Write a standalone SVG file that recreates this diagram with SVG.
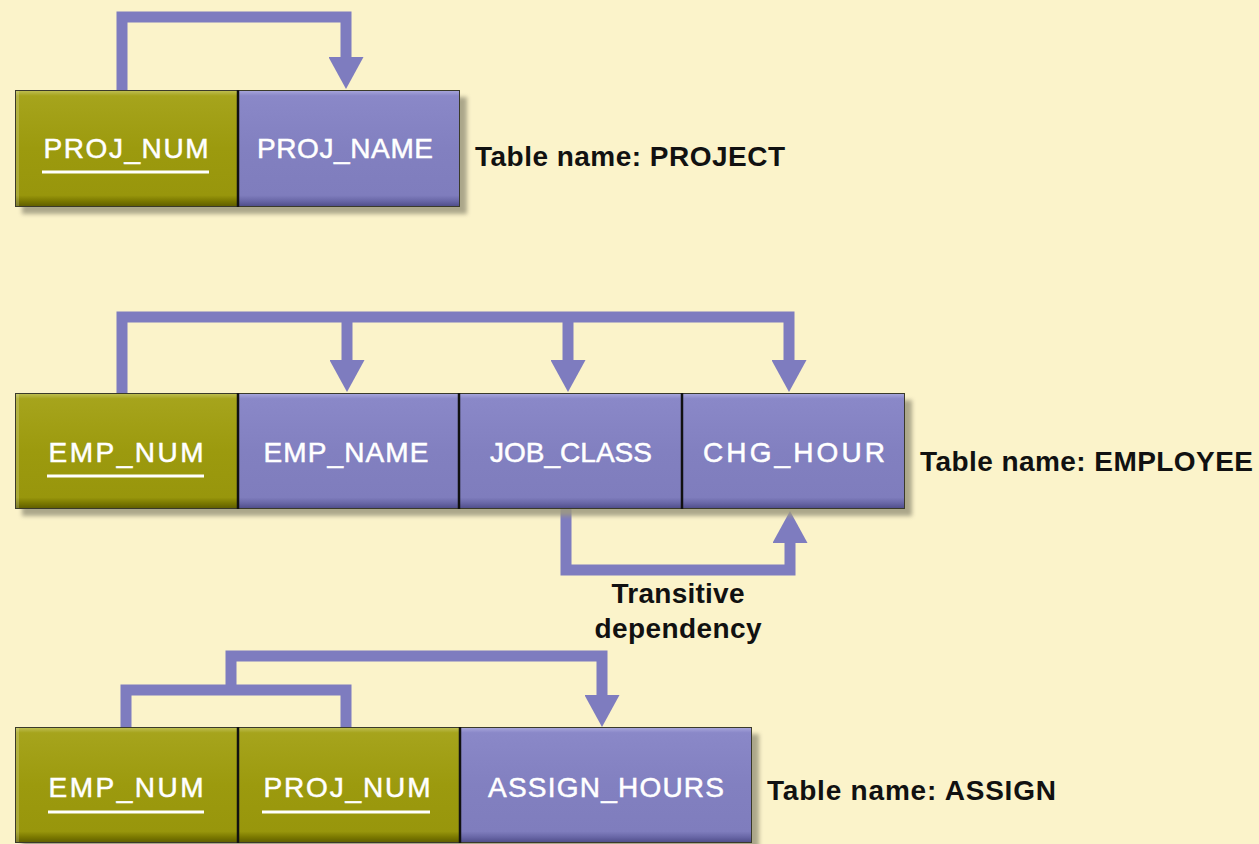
<svg xmlns="http://www.w3.org/2000/svg" width="1259" height="844" viewBox="0 0 1259 844">
  <defs>
    <style>
      .bg { fill: #FBF3CA; }
      .conn { fill: none; stroke: #7E7CBF; stroke-width: 11; stroke-linejoin: miter; stroke-linecap: butt; }
      .key { fill: url(#olive); }
      .attr { fill: url(#purple); }
      .edge { fill: none; stroke: #3A3A2A; stroke-width: 1; }
      .div { stroke: #111; stroke-width: 2.5; }
      .shadow { fill: #9E9A80; filter: url(#soft); opacity: 0.85; }
      .field { font-family: "Liberation Sans", Arial, sans-serif; font-size: 28px; fill: #FFFFFF; stroke: #FFFFFF; stroke-width: 0.5; text-anchor: middle; }
      .uline { stroke: #FFFFFF; stroke-width: 3; }
      .label { font-family: "Liberation Sans", Arial, sans-serif; font-size: 28px; font-weight: bold; fill: #111111; }
      .hl { fill: #FFFFFF; opacity: 0.18; }
    </style>
    <linearGradient id="olive" x1="0" y1="0" x2="0" y2="1">
      <stop offset="0" stop-color="#C2C25A"/>
      <stop offset="0.05" stop-color="#A6A41C"/>
      <stop offset="0.5" stop-color="#9C9A0E"/>
      <stop offset="0.9" stop-color="#98960C"/>
      <stop offset="0.95" stop-color="#7A7800"/>
      <stop offset="1" stop-color="#5C5A00"/>
    </linearGradient>
    <linearGradient id="purple" x1="0" y1="0" x2="0" y2="1">
      <stop offset="0" stop-color="#ABA9DE"/>
      <stop offset="0.05" stop-color="#8A88C8"/>
      <stop offset="0.5" stop-color="#8280C0"/>
      <stop offset="0.9" stop-color="#7F7DBD"/>
      <stop offset="0.95" stop-color="#6866A6"/>
      <stop offset="1" stop-color="#4C4A86"/>
    </linearGradient>
    <filter id="soft" x="-5%" y="-10%" width="110%" height="120%">
      <feGaussianBlur stdDeviation="2"/>
    </filter>
    <marker id="head" viewBox="0 0 32 35" refX="0" refY="17.5" markerWidth="32" markerHeight="35" markerUnits="userSpaceOnUse" orient="auto">
      <path d="M0,0 L32,17.5 L0,35 Z" fill="#7E7CBF"/>
    </marker>
  </defs>

  <rect class="bg" x="0" y="0" width="1259" height="844"/>

  <!-- dependency arrows -->
  <g id="connectors">
    <!-- PROJECT: PROJ_NUM -> PROJ_NAME -->
    <path class="conn" d="M122,90 V17 H346 V57" marker-end="url(#head)"/>
    <!-- EMPLOYEE: EMP_NUM -> EMP_NAME, JOB_CLASS, CHG_HOUR -->
    <path class="conn" d="M122,393 V317 H789 V360" marker-end="url(#head)"/>
    <path class="conn" d="M347,317 V360" marker-end="url(#head)"/>
    <path class="conn" d="M568,317 V360" marker-end="url(#head)"/>
    <!-- transitive: JOB_CLASS -> CHG_HOUR -->
    <path class="conn" d="M566,509 V570 H790 V543" marker-end="url(#head)"/>
    <!-- ASSIGN: EMP_NUM + PROJ_NUM -> ASSIGN_HOURS -->
    <path class="conn" d="M126,727 V690 H346 V727"/>
    <path class="conn" d="M231,690 V656 H602 V695" marker-end="url(#head)"/>
  </g>

  <!-- PROJECT table -->
  <g id="project">
    <rect class="shadow" x="22" y="97" width="445" height="117"/>
    <rect class="key" x="15" y="90" width="223" height="117"/>
    <rect class="attr" x="238" y="90" width="222" height="117"/>
    <rect class="hl" x="15" y="90" width="4" height="117"/>
    <rect class="edge" x="15.5" y="90.5" width="444" height="116"/>
    <line class="div" x1="238" y1="90" x2="238" y2="207"/>
    <text class="field" x="126" y="158" textLength="165">PROJ_NUM</text>
    <line class="uline" x1="42" y1="172" x2="209" y2="172"/>
    <text class="field" x="345" y="158" textLength="176">PROJ_NAME</text>
    <text class="label" x="475" y="166" textLength="310">Table name: PROJECT</text>
  </g>

  <!-- EMPLOYEE table -->
  <g id="employee">
    <rect class="shadow" x="22" y="400" width="890" height="116"/>
    <rect class="key" x="15" y="393" width="223" height="116"/>
    <rect class="attr" x="238" y="393" width="221" height="116"/>
    <rect class="attr" x="459" y="393" width="223" height="116"/>
    <rect class="attr" x="682" y="393" width="223" height="116"/>
    <rect class="hl" x="15" y="393" width="4" height="116"/>
    <rect class="edge" x="15.5" y="393.5" width="889" height="115"/>
    <line class="div" x1="238" y1="393" x2="238" y2="509"/>
    <line class="div" x1="459" y1="393" x2="459" y2="509"/>
    <line class="div" x1="682" y1="393" x2="682" y2="509"/>
    <text class="field" x="126" y="462" textLength="155">EMP_NUM</text>
    <line class="uline" x1="47" y1="476" x2="204" y2="476"/>
    <text class="field" x="346" y="462" textLength="165">EMP_NAME</text>
    <text class="field" x="571" y="462" textLength="162">JOB_CLASS</text>
    <text class="field" x="794" y="462" textLength="182">CHG_HOUR</text>
    <text class="label" x="920" y="471" textLength="333">Table name: EMPLOYEE</text>
  </g>

  <!-- transitive dependency caption -->
  <g id="transitive-label">
    <text class="label" x="678" y="603" text-anchor="middle" textLength="133">Transitive</text>
    <text class="label" x="678" y="638" text-anchor="middle" textLength="167">dependency</text>
  </g>

  <!-- ASSIGN table -->
  <g id="assign">
    <rect class="shadow" x="22" y="734" width="737" height="116"/>
    <rect class="key" x="15" y="727" width="223" height="116"/>
    <rect class="key" x="238" y="727" width="222" height="116"/>
    <rect class="attr" x="460" y="727" width="292" height="116"/>
    <rect class="hl" x="15" y="727" width="4" height="116"/>
    <rect class="edge" x="15.5" y="727.5" width="736" height="115"/>
    <line class="div" x1="238" y1="727" x2="238" y2="843"/>
    <line class="div" x1="460" y1="727" x2="460" y2="843"/>
    <text class="field" x="126" y="797" textLength="155">EMP_NUM</text>
    <line class="uline" x1="48" y1="812" x2="204" y2="812"/>
    <text class="field" x="347" y="797" textLength="167">PROJ_NUM</text>
    <line class="uline" x1="262" y1="812" x2="430" y2="812"/>
    <text class="field" x="606" y="797" textLength="236">ASSIGN_HOURS</text>
    <text class="label" x="767" y="800" textLength="289">Table name: ASSIGN</text>
  </g>
</svg>
